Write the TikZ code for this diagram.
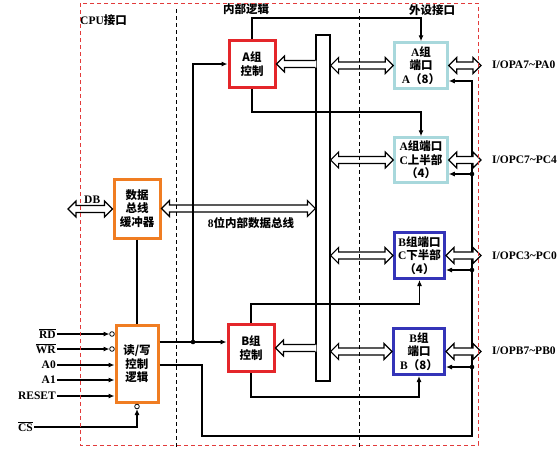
\documentclass[tikz,border=0pt]{standalone}
\usepackage{fontspec}
\setmainfont{Liberation Serif}
\newfontfamily\cjk{Noto Sans CJK SC}
\usetikzlibrary{arrows.meta,calc}
\definecolor{boxred}{HTML}{E4262A}
\definecolor{boxorange}{HTML}{F07D22}
\definecolor{boxlblue}{HTML}{A8D8DC}
\definecolor{boxblue}{HTML}{3434B8}
\definecolor{dashred}{HTML}{E23B3B}
\newcommand\zh[1]{{\cjk\bfseries #1}}
\newcommand\ovl[1]{\vbox{\hrule height 0.9pt\kern1.2pt\hbox{#1}}}
\newcommand\hollowboth[2]{%
 \draw[hollow] let \p1=#1, \p2=#2 in
 (\x1,\y1) -- (\x1+8pt,\y1+8pt) -- (\x1+8pt,\y1+3.5pt) -- (\x2-8pt,\y1+3.5pt) -- (\x2-8pt,\y1+8pt) -- (\x2,\y1)
 -- (\x2-8pt,\y1-8pt) -- (\x2-8pt,\y1-3.5pt) -- (\x1+8pt,\y1-3.5pt) -- (\x1+8pt,\y1-8pt) -- cycle;}
\newcommand\hollowleft[2]{%
 \fill[white] let \p1=#1, \p2=#2 in
 (\x1+1pt,\y2+3.5pt) -- (\x2+8pt,\y2+3.5pt) -- (\x2+8pt,\y2+8pt) -- (\x2,\y2) -- (\x2+8pt,\y2-8pt) -- (\x2+8pt,\y2-3.5pt) -- (\x1+1pt,\y2-3.5pt) -- cycle;
 \draw[ln] let \p1=#1, \p2=#2 in
 (\x1,\y2+3.5pt) -- (\x2+8pt,\y2+3.5pt) -- (\x2+8pt,\y2+8pt) -- (\x2,\y2) -- (\x2+8pt,\y2-8pt) -- (\x2+8pt,\y2-3.5pt) -- (\x1,\y2-3.5pt);}
\begin{document}
\begin{tikzpicture}[x=1pt,y=-1pt,
  ln/.style={line width=1.1pt,line join=miter},
  tip/.style={-{Latex[length=6pt,width=5pt]}},
  hollow/.style={ln,fill=white},
  box/.style={draw,line width=3pt,fill=white,align=center,inner sep=0pt,
    font=\fontsize{11.5}{13.5}\selectfont\bfseries},
  lbl/.style={font=\fontsize{11.5}{13.5}\selectfont\bfseries,inner sep=1pt}]
\useasboundingbox (0,0) rectangle (558,453);
\fill[white] (0,0) rectangle (558,453);

% boxes
\node[draw,fill=white,line width=1.1pt,minimum width=14,minimum height=346,inner sep=0pt] (bus) at (323,208) {};
\node[box,draw=boxred,minimum width=46,minimum height=47] (actl) at (252,64) {\zh{A组}\\\zh{控制}};
\node[box,draw=boxred,minimum width=46,minimum height=47] (bctl) at (251,348) {\zh{B组}\\\zh{控制}};
\node[box,draw=boxorange,minimum width=46,minimum height=59] (buf) at (137,208.5) {\zh{数据}\\\zh{总线}\\\zh{缓冲器}};
\node[box,draw=boxorange,minimum width=42,minimum height=77] (rw) at (137,364) {\zh{读/写}\\\zh{控制}\\\zh{逻辑}};
\node[box,draw=boxlblue,line width=2.5pt,minimum width=53,minimum height=46] (pa) at (421,65.5) {A\zh{组}\\\zh{端口}\\A\zh{（8）}};
\node[box,draw=boxlblue,line width=2.5pt,minimum width=53,minimum height=45] (pcu) at (421,160) {A\zh{组端口}\\C\zh{上半部}\\\zh{（4）}};
\node[box,draw=boxblue,minimum width=50,minimum height=46] (pcl) at (419.5,255.5) {B\zh{组端口}\\C\zh{下半部}\\\zh{（4）}};
\node[box,draw=boxblue,minimum width=51,minimum height=46] (pb) at (419,351.5) {B\zh{组}\\\zh{端口}\\B\zh{（8）}};

% level coordinates
\coordinate (ytop) at (0,18);
\coordinate (ya2) at (0,112);
\coordinate (yb1) at (0,304);
\coordinate (yb2) at (0,397);
\coordinate (yo1) at (0,342);
\coordinate (yo2) at (0,365);
\coordinate (ybot) at (0,436);
\coordinate (ya1) at (0,81);
\coordinate (yc1) at (0,174);
\coordinate (yc2) at (0,270);
\coordinate (yc3) at (0,367);
\coordinate (xj) at (193,0);
\coordinate (xr) at (202,0);
\coordinate (xv) at (472,0);
\coordinate (xo) at (481,0);
\coordinate (dbl) at (68,209);

% control lines
\draw[ln,tip] (actl.north) -- (actl.north |- ytop) -| (pa.north);
\draw[ln,tip] (actl.south) -- (actl.south |- ya2) -| (pcu.north);
\draw[ln,tip] (bctl.north) -- (bctl.north |- yb1) -| (pcl.south);
\draw[ln,tip] (bctl.south) -- (bctl.south |- yb2) -| (pb.south);
\draw[ln] (buf.south) -- (rw.north);
\coordinate (r1) at (xr |- yo2);
\draw[ln,tip] (rw.east |- yo2) -| (r1 |- ybot) -| (xv |- ya1) -- (pa.east |- ya1);
\draw[ln,tip] (xv |- yc1) -- (pcu.east |- yc1);
\draw[ln,tip] (xv |- yc2) -- (pcl.east |- yc2);
\draw[ln,tip] (xv |- yc3) -- (pb.east |- yc3);
\foreach \c in {yc1,yc2,yc3} \fill (xv |- \c) circle (2.3);

% hollow buses
\hollowboth{(dbl)}{(buf.west)}
\hollowboth{(buf.east)}{(bus.west |- buf.east)}
\hollowleft{(bus.west |- actl.east)}{(actl.east)}
\hollowleft{(bus.west |- bctl.east)}{(bctl.east)}
\hollowboth{(bus.east |- pa.west)}{(pa.west)}
\hollowboth{(bus.east |- pcu.west)}{(pcu.west)}
\hollowboth{(bus.east |- pcl.west)}{(pcl.west)}
\hollowboth{(bus.east |- pb.west)}{(pb.west)}
\hollowboth{(pa.east)}{(xo |- pa.east)}
\hollowboth{(pcu.east)}{(xo |- pcu.east)}
\hollowboth{(pcl.east)}{(xo |- pcl.east)}
\hollowboth{(pb.east)}{(xo |- pb.east)}

% R/W outputs to controls
\coordinate (j1) at (xj |- yo1);
\draw[ln,tip] (rw.east |- yo1) -- (bctl.west |- yo1);
\draw[ln,tip] (j1) |- (actl.west);
\fill (j1) circle (2.3);

% inputs
\node[lbl,anchor=east] (lrd) at (57,334) {\ovl{RD}};
\node[lbl,anchor=east] (lwr) at (57,349) {\ovl{WR}};
\node[lbl,anchor=east] (la0) at (57,365) {A0};
\node[lbl,anchor=east] (la1) at (57,380) {A1};
\node[lbl,anchor=east] (lrs) at (57,396) {RESET};
\node[lbl,anchor=east] (lcs) at (34,427) {\ovl{CS}};
\foreach \n in {lrd,lwr} {
  \draw[ln,tip] (\n.east) -- ($(rw.west |- \n.east)+(-5,0)$);
  \draw[line width=0.8pt,fill=white] ($(rw.west |- \n.east)+(-2.5,0)$) circle (2.3);
}
\foreach \n in {la0,la1,lrs} \draw[ln,tip] (\n.east) -- (rw.west |- \n.east);
\draw[ln,tip] (lcs.east) -| ($(rw.south)+(0,5)$);
\draw[line width=0.8pt,fill=white] ($(rw.south)+(0,2.5)$) circle (2.3);

% texts
\node[lbl,anchor=west] (tdb) at (83,200) {DB};
\node[lbl] (tbus) at (251,223) {8\zh{位内部数据总线}};
\node[lbl,anchor=west] (tcpu) at (79,20) {CPU\zh{接口}};
\node[lbl] (tin) at (246,9) {\zh{内部逻辑}};
\node[lbl] (tout) at (432,10) {\zh{外设接口}};
\node[lbl,anchor=west] (oa) at (491,65) {I/OPA7\char`\~PA0};
\node[lbl,anchor=west] (oc1) at (491,160) {I/OPC7\char`\~PC4};
\node[lbl,anchor=west] (oc2) at (491,256) {I/OPC3\char`\~PC0};
\node[lbl,anchor=west] (ob) at (491,351) {I/OPB7\char`\~PB0};

% dashed region borders
\draw[dashred,line width=1pt,dash pattern=on 4pt off 3pt] (80,3) rectangle (478,445);
\draw[black,line width=1pt,dash pattern=on 4pt off 3pt] (176,9) -- (176,448);
\draw[black,line width=1pt,dash pattern=on 4pt off 3pt] (359,9) -- (359,448);
\end{tikzpicture}
\end{document}
